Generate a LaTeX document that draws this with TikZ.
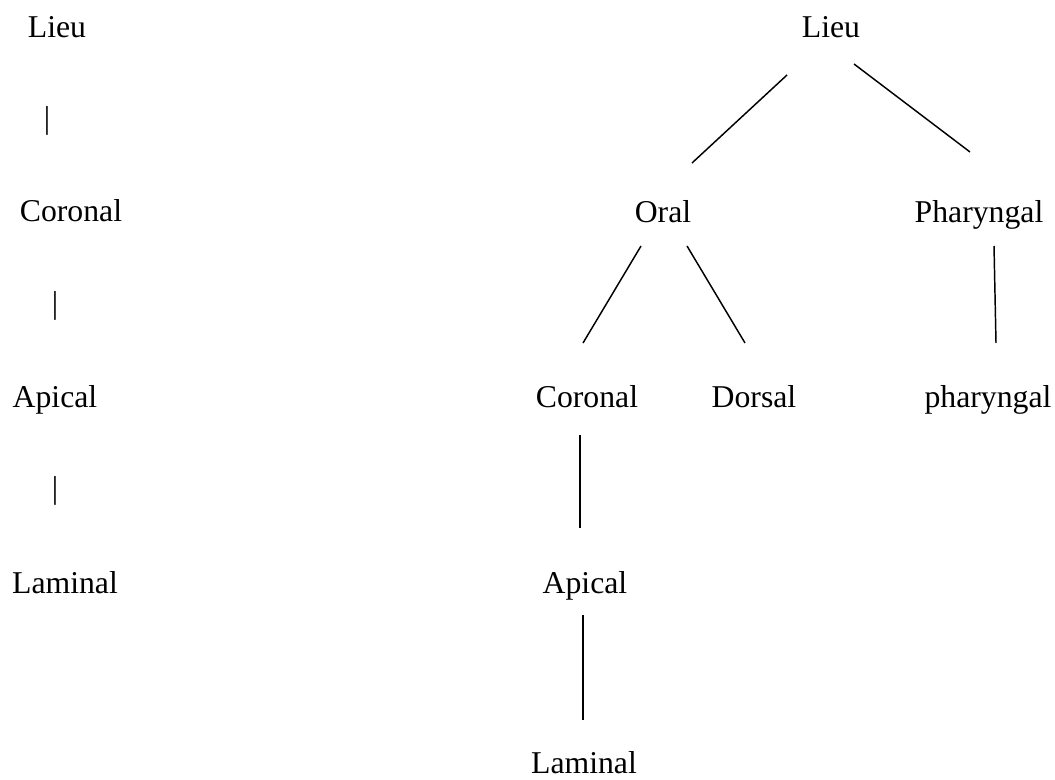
\documentclass[tikz,border=0pt]{standalone}
\usepackage{fontspec}
\setmainfont{Liberation Serif}
\usepackage{tikz}
\usetikzlibrary{positioning}

\tikzset{
  lbl/.style={inner sep=0pt, anchor=base, font=\fontsize{23.8pt}{28pt}\selectfont},
  bar/.style={inner sep=0pt, anchor=center, font=\fontsize{23.8pt}{28pt}\selectfont},
  branch/.style={line width=1.1pt}
}

\begin{document}
\begin{tikzpicture}[x=0.75pt, y=-0.75pt]
            \useasboundingbox (0,0) rectangle (1055,780);

            % left column
            \node[lbl] (lieuL) at (57,38) {Lieu};
            \node[bar] (barA) at (47,121) {|};
            \node[lbl] (coronalL) at (71,222) {Coronal};
            \node[bar] (barB) at (55,306) {|};
            \node[lbl] (apicalL) at (55,407) {Apical};
            \node[bar] (barC) at (55,491) {|};
            \node[lbl] (laminalL) at (65,593) {Laminal};

            % right tree
            \node[lbl] (lieuR) at (831,38) {Lieu};
            \node[lbl] (oral) at (663,223) {Oral};
            \node[lbl] (pharU) at (979,223) {Pharyngal};
            \node[lbl] (coronalR) at (587,407) {Coronal};
            \node[lbl] (dorsal) at (754,407) {Dorsal};
            \node[lbl] (pharL) at (988,407) {pharyngal};
            \node[lbl] (apicalR) at (585,593) {Apical};
            \node[lbl] (laminalR) at (584,773) {Laminal};

            \draw[branch] ([shift={(-44,37)}]lieuR.base) -- ([shift={(29,-60)}]oral.base);
            \draw[branch] ([shift={(23,26)}]lieuR.base) -- ([shift={(-9,-71)}]pharU.base);
            \draw[branch] ([shift={(-22,23)}]oral.base) -- ([shift={(-4,-64)}]coronalR.base);
            \draw[branch] ([shift={(24,23)}]oral.base) -- ([shift={(-9,-64)}]dorsal.base);
            \draw[branch] ([shift={(15,23)}]pharU.base) -- ([shift={(8,-64)}]pharL.base);
            \draw[branch] ([shift={(-7,28)}]coronalR.base) -- ([shift={(-5,-65)}]apicalR.base);
            \draw[branch] ([shift={(-2,22)}]apicalR.base) -- ([shift={(-1,-53)}]laminalR.base);
        \end{tikzpicture}
\end{document}
